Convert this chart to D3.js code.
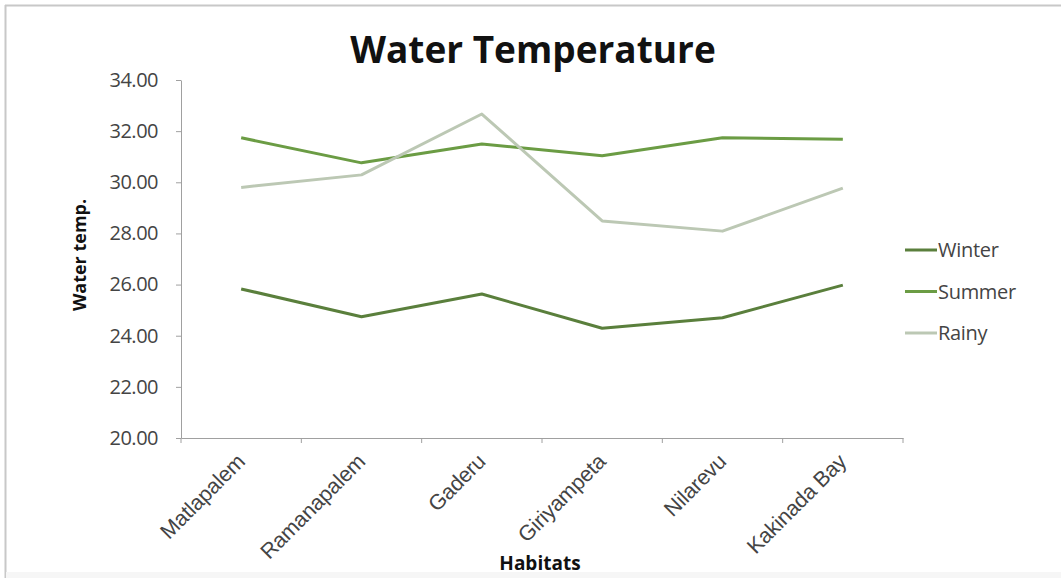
<!DOCTYPE html>
<html><head><meta charset="utf-8">
<script src="https://cdn.jsdelivr.net/npm/d3@7"></script>
<style>
html,body{margin:0;padding:0;background:#fff;}
svg{display:block;font-family:"Open Sans","Noto Sans",sans-serif;}
</style></head>
<body>
<svg id="c" width="1061" height="578"></svg>
<script>
const categories = ["Matlapalem","Ramanapalem","Gaderu","Giriyampeta","Nilarevu","Kakinada Bay"];
const winter = [25.83, 24.74, 25.63, 24.29, 24.70, 25.98];
const summer = [31.74, 30.76, 31.50, 31.04, 31.74, 31.68];
const rainy  = [29.80, 30.29, 32.67, 28.49, 28.09, 29.77];
const yTicks = [20,22,24,26,28,30,32,34];
const seriesNames = ["Winter","Summer","Rainy"];
const seriesColors = ["#5a7f3c","#6b9c44","#bcc8b4"];
const series = [winter, summer, rainy];

const svg = d3.select("#c");
// frame
svg.append("line").attr("x1",5).attr("x2",1061).attr("y1",5.5).attr("y2",5.5).attr("stroke","#c8c8c8").attr("stroke-width",2);
svg.append("line").attr("x1",5.5).attr("x2",5.5).attr("y1",5).attr("y2",578).attr("stroke","#c8c8c8").attr("stroke-width",2);
svg.append("rect").attr("x",6).attr("y",572).attr("width",1055).attr("height",6).attr("fill","#f6f6f6");

const x = d3.scaleBand().domain(categories).range([181,903]);
const y = d3.scaleLinear().domain([20,34]).range([438,80]);

// y axis
const ya = svg.append("g").attr("transform","translate(181,0)")
  .call(d3.axisLeft(y).tickValues(yTicks).tickFormat(d3.format(".2f")).tickSize(5).tickSizeOuter(0));
ya.select(".domain").attr("stroke","#a0a0a0");
ya.selectAll(".tick line").attr("stroke","#a0a0a0");
ya.selectAll(".tick text").attr("font-size",20).attr("fill","#444").attr("x",-23)
  .attr("font-family","'Open Sans',sans-serif").attr("letter-spacing","-0.5");

// x axis
const xa = svg.append("g").attr("transform","translate(0,438)")
  .call(d3.axisBottom(x).tickSize(0).tickFormat(""));
xa.select(".domain").attr("stroke","#a0a0a0");
const bounds = [...categories.map(c=>x(c)), 903];
xa.selectAll(".bt").data(bounds).enter().append("line").attr("class","bt")
  .attr("x1",d=>d).attr("x2",d=>d).attr("y1",0).attr("y2",5).attr("stroke","#a0a0a0");
xa.selectAll(".xl").data(categories).enter().append("text").attr("class","xl")
  .attr("transform",d=>`translate(${x(d)+x.bandwidth()/2+5},${25}) rotate(-45)`)
  .attr("text-anchor","end").attr("font-size",21.5).attr("letter-spacing","-0.2").attr("fill","#444").text(d=>d);

// lines
const line = d3.line().x((d,i)=>x(categories[i])+x.bandwidth()/2).y(d=>y(d));
svg.selectAll(".ser").data(series).enter().append("path").attr("class","ser")
  .attr("d",d=>line(d)).attr("fill","none")
  .attr("stroke",(d,i)=>seriesColors[i]).attr("stroke-width",3).attr("stroke-linejoin","round");

// title
svg.append("text").attr("x",533).attr("y",63).attr("text-anchor","middle")
  .attr("font-size",37).attr("font-weight","bold").attr("fill","#111").text("Water Temperature");
// axis titles
svg.append("text").attr("transform","translate(86,255) rotate(-90)").attr("text-anchor","middle")
  .attr("font-size",18).attr("font-weight","bold").attr("fill","#111").text("Water temp.");
svg.append("text").attr("x",540).attr("y",570).attr("text-anchor","middle")
  .attr("font-size",19).attr("font-weight","bold").attr("fill","#111").text("Habitats");

// legend
const lg = svg.selectAll(".lg").data(seriesNames).enter().append("g").attr("class","lg")
  .attr("transform",(d,i)=>`translate(905,${250+i*41.5})`);
lg.append("line").attr("x1",0).attr("x2",32).attr("stroke",(d,i)=>seriesColors[i]).attr("stroke-width",3);
lg.append("text").attr("x",33).attr("y",7).attr("font-size",20).attr("letter-spacing","-0.3").attr("fill","#444").text(d=>d);
</script>
</body></html>
